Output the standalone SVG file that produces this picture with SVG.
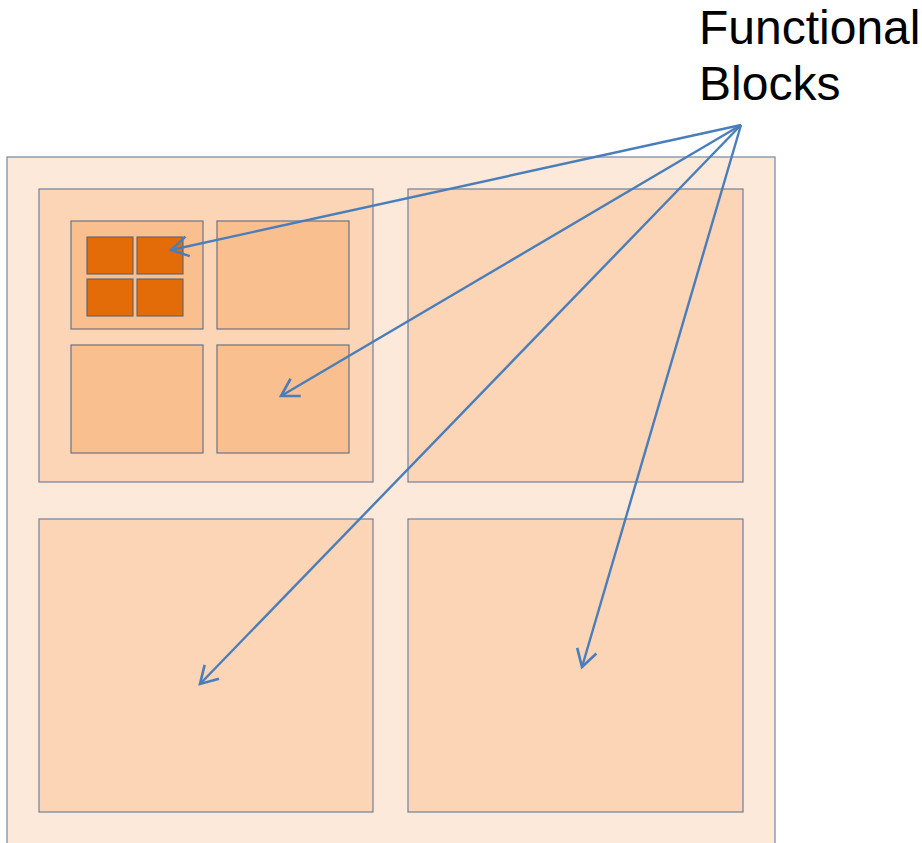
<svg xmlns="http://www.w3.org/2000/svg" width="922" height="843" viewBox="0 0 922 843">
  <style>
    .chip { fill: #FDE9D9; stroke: #7E90AB; stroke-width: 1.3; }
    .block { fill: #FBD5B5; stroke: #6E819E; stroke-width: 1.2; }
    .sub { fill: #F9BF8F; stroke: #6A7388; stroke-width: 1.2; }
    .unit { fill: #E36C09; stroke: #5E6270; stroke-width: 1.1; }
    .arrow { fill: none; stroke: #4A7EBB; stroke-width: 2.4; }
    .label { font-family: "Liberation Sans", Arial, sans-serif; font-size: 48px; fill: #000; }
  </style>
  <defs>
    <!-- open V arrowhead, ~20px arms at 30 degrees -->
    <marker id="open-arrow" viewBox="0 -12 24 24" refX="20" refY="0" markerWidth="24" markerHeight="24" markerUnits="userSpaceOnUse" orient="auto">
      <path d="M3,-10 L20,0 L3,10" fill="none" stroke="#4A7EBB" stroke-width="2.6" stroke-linecap="butt" stroke-linejoin="miter"/>
    </marker>
  </defs>
  <rect width="922" height="843" fill="#FFFFFF"/>

  <g id="chip">
    <rect class="chip" x="7" y="157" width="768" height="700"/>
  </g>

  <g id="block-top-left">
    <rect class="block" x="39" y="189" width="334" height="293"/>
  </g>
  <g id="block-top-right">
    <rect class="block" x="408" y="189" width="335" height="293"/>
  </g>
  <g id="block-bottom-left">
    <rect class="block" x="39" y="519" width="334" height="293"/>
  </g>
  <g id="block-bottom-right">
    <rect class="block" x="408" y="519" width="335" height="293"/>
  </g>

  <g id="sub-top-left">
    <rect class="sub" x="71" y="221" width="132" height="108"/>
  </g>
  <g id="sub-top-right">
    <rect class="sub" x="217" y="221" width="132" height="108"/>
  </g>
  <g id="sub-bottom-left">
    <rect class="sub" x="71" y="345" width="132" height="108"/>
  </g>
  <g id="sub-bottom-right">
    <rect class="sub" x="217" y="345" width="132" height="108"/>
  </g>

  <g id="unit-1"><rect class="unit" x="87" y="237" width="46" height="37"/></g>
  <g id="unit-2"><rect class="unit" x="137" y="237" width="46" height="37"/></g>
  <g id="unit-3"><rect class="unit" x="87" y="279" width="46" height="37"/></g>
  <g id="unit-4"><rect class="unit" x="137" y="279" width="46" height="37"/></g>

  <g id="label">
    <text class="label" x="699" y="44">Functional</text>
    <text class="label" x="699" y="100">Blocks</text>
  </g>

  <g id="connectors">
    <line class="arrow" x1="741" y1="125" x2="171" y2="250" marker-end="url(#open-arrow)"/>
    <line class="arrow" x1="741" y1="125" x2="281" y2="396" marker-end="url(#open-arrow)"/>
    <line class="arrow" x1="741" y1="125" x2="200" y2="684" marker-end="url(#open-arrow)"/>
    <line class="arrow" x1="741" y1="125" x2="582" y2="667" marker-end="url(#open-arrow)"/>
  </g>
</svg>
